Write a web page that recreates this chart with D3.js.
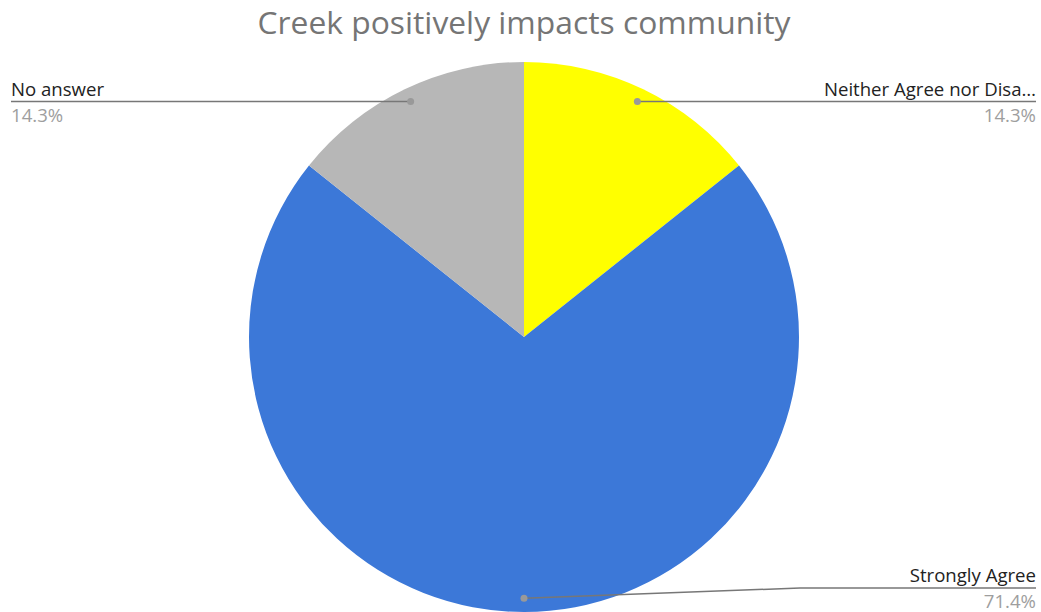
<!DOCTYPE html>
<html><head><meta charset="utf-8">
<script src="https://cdn.jsdelivr.net/npm/d3@7"></script>
<style>body{margin:0;background:#fff}svg{display:block}</style>
</head><body>
<svg id="c" width="1041" height="612"></svg>
<script>
const categories = ["Neither Agree nor Disagree", "Strongly Agree", "No answer"];
const shortLabels = ["Neither Agree nor Disa…", "Strongly Agree", "No answer"];
const values = [1, 5, 1];
const colors = ["#ffff00", "#3c78d8", "#b7b7b7"];
const title = "Creek positively impacts community";

const W = 1041, H = 612;
const cx = 524, cy = 337, R = 275;
const svg = d3.select("#c");
const font = "'Open Sans', 'Noto Sans', sans-serif";

svg.append("text").attr("x", cx).attr("y", 34).attr("text-anchor", "middle")
  .attr("font-family", font).attr("font-size", 31.8).attr("fill", "#757575").text(title);

const pie = d3.pie().sort(null).value(d => d)(values);
const arc = d3.arc().innerRadius(0).outerRadius(R);
const g = svg.append("g").attr("transform", `translate(${cx},${cy})`);
g.selectAll("path").data(pie).join("path").attr("d", arc).attr("fill", (d, i) => colors[i]);

const total = d3.sum(values);
const fmt = v => (v / total * 100).toFixed(1) + "%";
const dotR = R * 0.95;

pie.forEach((d, i) => {
  const a = (d.startAngle + d.endAngle) / 2;
  const px = cx + dotR * Math.sin(a), py = cy - dotR * Math.cos(a);
  const right = Math.sin(a) >= -1e-6;
  const top = py < cy;
  let lineY, pts;
  if (top) {
    lineY = py;
    pts = right ? [[px, py], [1036, py]] : [[px, py], [11, py]];
  } else {
    lineY = 588;
    pts = [[px, py], [800, lineY], [1036, lineY]];
  }
  svg.append("path").attr("d", d3.line()(pts)).attr("fill", "none")
    .attr("stroke", "#777").attr("stroke-width", 1.5);
  svg.append("circle").attr("cx", px).attr("cy", py).attr("r", 3.5).attr("fill", "#999");
  const tx = right ? 1036 : 11;
  const anchor = right ? "end" : "start";
  svg.append("text").attr("x", tx).attr("y", lineY - 6).attr("text-anchor", anchor)
    .attr("font-family", font).attr("font-size", 18.6).attr("fill", "#222").text(shortLabels[i]);
  svg.append("text").attr("x", tx).attr("y", lineY + 20).attr("text-anchor", anchor)
    .attr("font-family", font).attr("font-size", 18.6).attr("fill", "#9e9e9e").text(fmt(values[i]));
});
</script>
</body></html>
